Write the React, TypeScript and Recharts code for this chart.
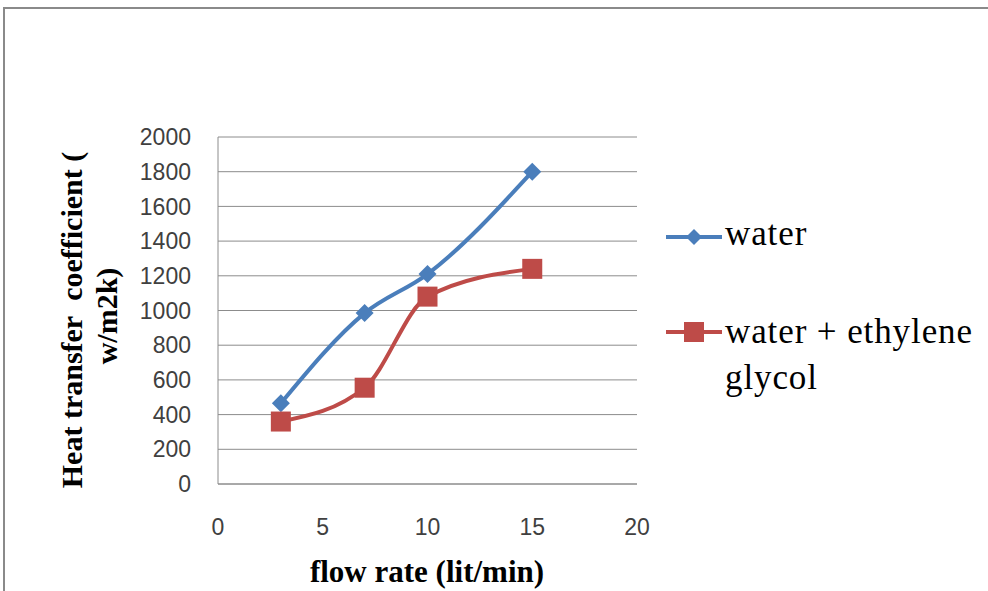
import React from 'react';
import { LineChart, Line, XAxis, YAxis, CartesianGrid } from 'recharts';

const flowRates = [3, 7, 10, 15];
const waterValues = [465, 985, 1210, 1800];
const glycolValues = [360, 555, 1080, 1240];
const xTicks = [0, 5, 10, 15, 20];
const yTicks = [0, 200, 400, 600, 800, 1000, 1200, 1400, 1600, 1800, 2000];
const seriesNames = ['water', 'water + ethylene', 'glycol'];

const data = flowRates.map((x, i) => ({ x, water: waterValues[i], glycol: glycolValues[i] }));

const BLUE = '#4A7EBB';
const RED = '#BE4B48';

const Diamond = (props: any) => {
  const { cx, cy } = props;
  if (cx == null || cy == null) return null;
  const r = 9;
  return <path d={`M${cx},${cy - r}L${cx + r},${cy}L${cx},${cy + r}L${cx - r},${cy}Z`} fill={BLUE} />;
};

const Square = (props: any) => {
  const { cx, cy } = props;
  if (cx == null || cy == null) return null;
  const s = 10;
  return <rect x={cx - s} y={cy - s} width={2 * s} height={2 * s} fill={RED} />;
};

const LegendBox = () => (
  <div style={{ position: 'absolute', left: 662, top: 212, width: 328, height: 200, fontFamily: '"Liberation Serif", serif', fontSize: 35, color: '#000', letterSpacing: 0.9 }}>
    <svg style={{ position: 'absolute', left: 0, top: 0 }} width={60} height={140}>
      <line x1={4} y1={25} x2={60} y2={25} stroke={BLUE} strokeWidth={4} />
      <path d="M32,17L40,25L32,33L24,25Z" fill={BLUE} />
      <line x1={4} y1={120} x2={60} y2={120} stroke={RED} strokeWidth={4} />
      <rect x={22} y={110} width={20} height={20} fill={RED} />
    </svg>
    <div style={{ position: 'absolute', left: 63, top: 2, lineHeight: '40px', whiteSpace: 'nowrap' }}>{seriesNames[0]}</div>
    <div style={{ position: 'absolute', left: 63, top: 97, lineHeight: '46px', whiteSpace: 'nowrap' }}>
      {seriesNames[1]}<br />{seriesNames[2]}
    </div>
  </div>
);

const YLabel = () => (
  <text
    transform="rotate(-90)"
    fontFamily='"Liberation Serif", serif'
    fontWeight="bold"
    fontSize={30}
    fill="#000"
    textAnchor="middle"
  >
    <tspan x={-320} y={82}>{'Heat transfer\u00A0 coefficient ('}</tspan>
    <tspan x={-316} y={117}>w/m2k)</tspan>
  </text>
);

const XLabel = () => (
  <text x={427} y={582} fontFamily='"Liberation Serif", serif' fontWeight="bold" fontSize={31} fill="#000" textAnchor="middle">
    flow rate (lit/min)
  </text>
);

export default function App() {
  return (
    <div style={{ position: 'absolute', left: 0, top: 0, width: 988, height: 591, background: '#fff', overflow: 'hidden' }}>
      <div style={{ position: 'absolute', left: 3, top: 7, width: 1100, height: 700, borderTop: '2px solid #8a8a8a', borderLeft: '2px solid #8a8a8a' }} />
      <LineChart
        width={988}
        height={591}
        data={data}
        margin={{ top: 137, right: 351, bottom: 57, left: 138 }}
        style={{ position: 'absolute', left: 0, top: 0 }}
      >
        <CartesianGrid vertical={false} stroke="#8c8c8c" strokeWidth={1} />
        <XAxis
          dataKey="x"
          type="number"
          domain={[0, 20]}
          ticks={xTicks}
          interval={0}
          tickSize={0}
          tickMargin={35}
          height={50}
          axisLine={{ stroke: '#8c8c8c' }}
          tick={{ fontSize: 23, fill: '#404040', fontFamily: '"Liberation Sans", sans-serif' }}
          label={{ content: XLabel }}
        />
        <YAxis
          type="number"
          domain={[0, 2000]}
          ticks={yTicks}
          interval={0}
          tickSize={0}
          tickMargin={27}
          width={80}
          axisLine={{ stroke: '#8c8c8c' }}
          tick={{ fontSize: 23, fill: '#404040', fontFamily: '"Liberation Sans", sans-serif' }}
          label={{ content: YLabel }}
        />
        <Line
          dataKey="water"
          name="water"
          type="monotone"
          stroke={BLUE}
          strokeWidth={4}
          dot={<Diamond />}
          activeDot={false}
          isAnimationActive={false}
        />
        <Line
          dataKey="glycol"
          name="water + ethylene glycol"
          type="monotone"
          stroke={RED}
          strokeWidth={4}
          dot={<Square />}
          activeDot={false}
          isAnimationActive={false}
        />
      </LineChart>
      <LegendBox />
    </div>
  );
}
